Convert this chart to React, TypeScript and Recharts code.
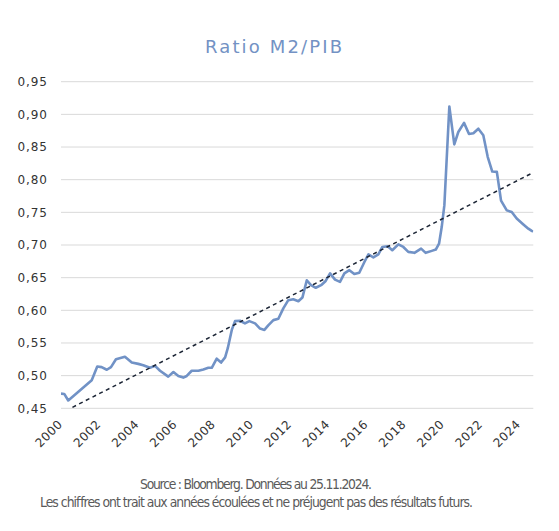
import React from 'react';
import { LineChart, Line, XAxis, YAxis, CartesianGrid } from 'recharts';

// Ratio M2/PIB — dates (decimal years) and values
const ratioDates = [
  2000.0, 2000.17, 2000.38, 2001.61, 2001.9, 2002.13, 2002.4, 2002.62, 2002.88, 2003.35,
  2003.71, 2004.05, 2004.31, 2004.66, 2004.93, 2005.19, 2005.62, 2005.89, 2006.15, 2006.41,
  2006.59, 2006.85, 2007.2, 2007.46, 2007.72, 2007.9, 2008.16, 2008.39, 2008.6, 2008.74,
  2008.95, 2009.12, 2009.38, 2009.64, 2009.87, 2010.17, 2010.43, 2010.66, 2010.86, 2011.13,
  2011.39, 2011.65, 2011.91, 2012.17, 2012.44, 2012.65, 2012.88, 2013.1, 2013.35, 2013.63,
  2013.87, 2014.1, 2014.36, 2014.62, 2014.85, 2015.11, 2015.37, 2015.63, 2015.9, 2016.11,
  2016.37, 2016.63, 2016.84, 2017.12, 2017.36, 2017.68, 2017.94, 2018.2, 2018.52, 2018.87,
  2019.11, 2019.43, 2019.64, 2019.81, 2019.95, 2020.09, 2020.35, 2020.61, 2020.82, 2021.12,
  2021.38, 2021.61, 2021.87, 2022.13, 2022.36, 2022.6, 2022.84, 2023.06, 2023.36, 2023.62,
  2023.88, 2024.23, 2024.49, 2024.67, 2024.75,
];
const ratioValues = [
  0.4725, 0.472, 0.462, 0.493, 0.514, 0.513, 0.509, 0.513, 0.525, 0.529,
  0.52, 0.518, 0.516, 0.512, 0.515, 0.5075, 0.4985, 0.5055, 0.4995, 0.497,
  0.4995, 0.5075, 0.5075, 0.5095, 0.512, 0.512, 0.526, 0.52, 0.528, 0.542,
  0.57, 0.5835, 0.584, 0.58, 0.5835, 0.58, 0.572, 0.57, 0.577, 0.585,
  0.587, 0.603, 0.6155, 0.617, 0.614, 0.6195, 0.646, 0.6385, 0.6345, 0.6385,
  0.645, 0.6565, 0.647, 0.6435, 0.6565, 0.6615, 0.6555, 0.6575, 0.674, 0.6855,
  0.681, 0.6855, 0.697, 0.698, 0.692, 0.701, 0.697, 0.6895, 0.688, 0.6945,
  0.688, 0.691, 0.693, 0.702, 0.7275, 0.761, 0.912, 0.854, 0.873, 0.887,
  0.87, 0.871, 0.878, 0.868, 0.835, 0.8125, 0.812, 0.768, 0.753, 0.7505,
  0.7405, 0.7315, 0.725, 0.7215, 0.721,
];

// Linear trend (dotted): visible end points
const trendDates = [2000.6, 2024.75];
const trendValues = [0.4515, 0.811];

const yearTicks = [2000, 2002, 2004, 2006, 2008, 2010, 2012, 2014, 2016, 2018, 2020, 2022, 2024];
const yTicks = [0.45, 0.5, 0.55, 0.6, 0.65, 0.7, 0.75, 0.8, 0.85, 0.9, 0.95];

const title = 'Ratio M2/PIB';
const footer1 = 'Source : Bloomberg. Données au 25.11.2024.';
const footer2 = 'Les chiffres ont trait aux années écoulées et ne préjugent pas des résultats futurs.';

const ratioData = ratioDates.map((d, i) => ({ date: d, ratio: ratioValues[i] }));
const trendData = trendDates.map((d, i) => ({ date: d, trend: trendValues[i] }));

const W = 559;
const H = 531;
const PLOT_TOP = 81.7;
const PLOT_BOTTOM = 408.3;
const PLOT_LEFT = 61;
const PLOT_RIGHT = 533.3;

const AXIS_FONT = "'DejaVu Sans', sans-serif";
const NARROW_FONT = "'Liberation Sans Narrow', 'DejaVu Sans Condensed', 'Roboto', sans-serif";

const fmtY = (v: number) => v.toFixed(2).replace('.', ',');

const YTick = (props: any) => {
  const { y, payload } = props;
  return (
    <text
      x={47}
      y={y}
      dy={4.3}
      textAnchor="end"
      fontFamily={AXIS_FONT}
      fontSize={12}
      fill="#333333"
      textLength={29.5}
      lengthAdjust="spacing"
    >
      {fmtY(payload.value)}
    </text>
  );
};

const XTick = (props: any) => {
  const { x, payload } = props;
  const ax = x + 2;
  const ay = PLOT_BOTTOM + 17;
  return (
    <text
      x={ax}
      y={ay}
      textAnchor="end"
      transform={`rotate(-45, ${ax}, ${ay})`}
      fontFamily={AXIS_FONT}
      fontSize={12}
      fill="#333333"
      textLength={32}
      lengthAdjust="spacing"
    >
      {String(payload.value)}
    </text>
  );
};

export default function App() {
  return (
    <div style={{ position: 'absolute', left: 0, top: 0, width: W, height: H, background: '#fff' }}>
      <LineChart
        width={W}
        height={H}
        margin={{ top: PLOT_TOP, right: W - PLOT_RIGHT, bottom: H - PLOT_BOTTOM - 30, left: 0 }}
      >
        <CartesianGrid horizontal vertical={false} stroke="#d9d9d9" strokeWidth={1} />
        <XAxis
          dataKey="date"
          type="number"
          domain={[2000, 2024.75]}
          ticks={yearTicks}
          interval={0}
          allowDataOverflow
          axisLine={false}
          tickLine={false}
          height={30}
          tick={<XTick />}
        />
        <YAxis
          type="number"
          domain={[0.45, 0.95]}
          ticks={yTicks}
          interval={0}
          allowDataOverflow
          axisLine={false}
          tickLine={false}
          width={PLOT_LEFT}
          tick={<YTick />}
        />
        <Line
          data={ratioData}
          dataKey="ratio"
          type="linear"
          stroke="#7192c6"
          strokeWidth={2.6}
          dot={false}
          isAnimationActive={false}
          strokeLinejoin="round"
        />
        <Line
          data={trendData}
          dataKey="trend"
          type="linear"
          stroke="#1c2535"
          strokeWidth={1.5}
          strokeDasharray="4 3.5"
          dot={false}
          isAnimationActive={false}
        />
        <text
          x={273.5}
          y={53}
          textAnchor="middle"
          fontFamily={AXIS_FONT}
          fontSize={18}
          fill="#7392c4"
          textLength={137}
          lengthAdjust="spacing"
        >
          {title}
        </text>
        <text
          x={256}
          y={489}
          textAnchor="middle"
          fontFamily={NARROW_FONT}
          fontSize={13.8}
          fill="#5a5a5a"
          textLength={232}
          lengthAdjust="spacing"
        >
          {footer1}
        </text>
        <text
          x={256.5}
          y={507}
          textAnchor="middle"
          fontFamily={NARROW_FONT}
          fontSize={13.8}
          fill="#5a5a5a"
          textLength={433}
          lengthAdjust="spacing"
        >
          {footer2}
        </text>
      </LineChart>
    </div>
  );
}
